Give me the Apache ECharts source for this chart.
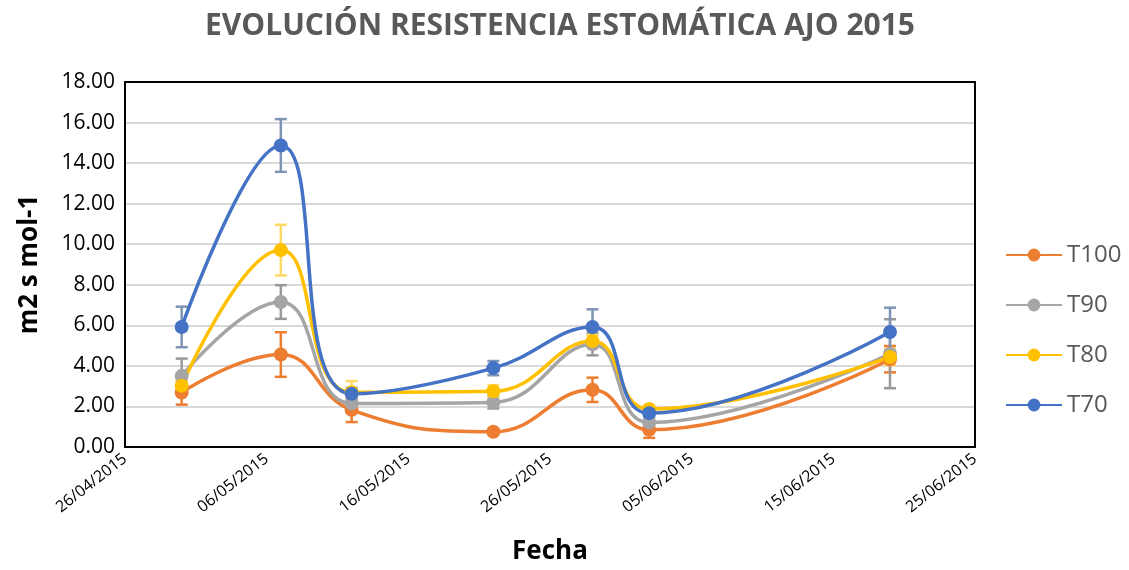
<!DOCTYPE html>
<html>
<head>
<meta charset="utf-8">
<script src="https://cdn.jsdelivr.net/npm/echarts@6/dist/echarts.min.js"></script>
<style>
  html, body { margin: 0; padding: 0; background: #fff; }
  #chart { width: 1129px; height: 570px; }
</style>
</head>
<body>
<div id="chart"></div>
<script>
// fechas de muestreo
var fechas = ['30/04/2015', '07/05/2015', '12/05/2015', '22/05/2015', '29/05/2015', '02/06/2015', '19/06/2015'];
var fechaInicio = '26/04/2015';

// resistencia estomatica por tratamiento
var t100 = [2.69, 4.56, 1.83, 0.75, 2.82, 0.85, 4.33];
var t90  = [3.51, 7.15, 2.15, 2.20, 5.07, 1.21, 4.60];
var t80  = [3.02, 9.71, 2.70, 2.75, 5.23, 1.87, 4.44];
var t70  = [5.92, 14.87, 2.62, 3.89, 5.92, 1.67, 5.67];

// error (+/-)
var errT100 = [0.60, 1.10, 0.60, 0.15, 0.60, 0.40, 0.65];
var errT90  = [0.85, 0.83, 0.35, 0.30, 0.55, 0.30, 1.70];
var errT80  = [0.30, 1.25, 0.55, 0.30, 0.30, 0.20, 0.40];
var errT70  = [1.00, 1.30, 0.30, 0.35, 0.87, 0.20, 1.20];

var DAY = 86400000;
function parseFecha(s){
	var p = s.split('/');
	return Date.UTC(+p[2], +p[1] - 1, +p[0]);
}
var t0 = parseFecha(fechaInicio);
function dias(s){ return Math.round((parseFecha(s) - t0) / DAY); }
function pad(n){ return (n < 10 ? '0' : '') + n; }
function fmtFecha(v){
	var d = new Date(t0 + v * DAY);
	return pad(d.getUTCDate()) + '/' + pad(d.getUTCMonth() + 1) + '/' + d.getUTCFullYear();
}

var xs = fechas.map(dias);

function lineSerie(name, vals, color){
	return {
		name: name,
		type: 'line',
		smooth: 0.45,
		symbol: 'circle',
		symbolSize: 14,
		z: 3,
		lineStyle: { width: 3.5, color: color },
		itemStyle: { color: color },
		data: vals.map(function(v, i){ return [xs[i], v]; })
	};
}

function errSerie(vals, errs, color){
	return {
		type: 'custom',
		z: 2,
		silent: true,
		renderItem: function(params, api){
			var x = api.value(0), y = api.value(1), e = api.value(2);
			var top = api.coord([x, y + e]);
			var bot = api.coord([x, y - e]);
			var w = 6;
			var st = { stroke: color, lineWidth: 2.5 };
			return {
				type: 'group',
				children: [
					{ type: 'line', shape: { x1: top[0], y1: top[1], x2: bot[0], y2: bot[1] }, style: st },
					{ type: 'line', shape: { x1: top[0] - w, y1: top[1], x2: top[0] + w, y2: top[1] }, style: st },
					{ type: 'line', shape: { x1: bot[0] - w, y1: bot[1], x2: bot[0] + w, y2: bot[1] }, style: st }
				]
			};
		},
		data: vals.map(function(v, i){ return [xs[i], v, errs[i]]; })
	};
}

var borde = { show: true, onZero: false, lineStyle: { color: '#000', width: 2 } };

var chart = echarts.init(document.getElementById('chart'));
var option = {
	backgroundColor: '#fff',
	animation: false,
	title: {
		text: 'EVOLUCIÓN RESISTENCIA ESTOMÁTICA AJO 2015',
		left: 555,
		textAlign: 'center',
		top: 6,
		textStyle: { fontFamily: 'Open Sans', fontSize: 30, fontWeight: 'bold', color: '#595959' }
	},
	legend: {
		orient: 'vertical',
		left: 1000,
		top: 238,
		itemGap: 26,
		itemWidth: 56,
		itemHeight: 16,
		textStyle: { fontFamily: 'Open Sans', fontSize: 24, color: '#595959' },
		data: ['T100', 'T90', 'T80', 'T70']
	},
	grid: {
		left: 125, right: 154, top: 82, bottom: 122
	},
	xAxis: [{
		type: 'value',
		min: 0, max: 60, interval: 10,
		name: 'Fecha',
		nameLocation: 'middle',
		nameGap: 92,
		nameTextStyle: { fontFamily: 'Open Sans', fontSize: 26, fontWeight: 'bold', color: '#000' },
		axisLine: borde,
		axisTick: { show: false },
		splitLine: { show: false },
		axisLabel: {
			rotate: 38,
			margin: 10,
			fontFamily: 'Open Sans',
			fontSize: 16,
			color: '#000',
			formatter: function(v){ return fmtFecha(v); }
		}
	}, {
		type: 'value', position: 'top',
		min: 0, max: 60,
		axisLine: borde, axisTick: { show: false }, axisLabel: { show: false }, splitLine: { show: false }
	}],
	yAxis: [{
		type: 'value',
		min: 0, max: 18, interval: 2,
		name: 'm2 s mol-1',
		nameLocation: 'middle',
		nameGap: 82,
		nameTextStyle: { fontFamily: 'Open Sans', fontSize: 26, fontWeight: 'bold', color: '#000' },
		axisLine: borde,
		axisTick: { show: false },
		splitLine: { lineStyle: { color: '#d9d9d9', width: 2 } },
		axisLabel: {
			margin: 10,
			fontFamily: 'Open Sans',
			fontSize: 21,
			color: '#000',
			formatter: function(v){ return v.toFixed(2); }
		}
	}, {
		type: 'value', position: 'right',
		min: 0, max: 18,
		axisLine: borde, axisTick: { show: false }, axisLabel: { show: false }, splitLine: { show: false }
	}],
	series: [
		errSerie(t100, errT100, '#ED7D31'),
		lineSerie('T100', t100, '#ED7D31'),
		errSerie(t90, errT90, '#999999'),
		lineSerie('T90', t90, '#A5A5A5'),
		errSerie(t80, errT80, '#FFD966'),
		lineSerie('T80', t80, '#FFC000'),
		errSerie(t70, errT70, '#7F93B5'),
		lineSerie('T70', t70, '#4472C4')
	]
};
chart.setOption(option);
</script>
</body>
</html>
